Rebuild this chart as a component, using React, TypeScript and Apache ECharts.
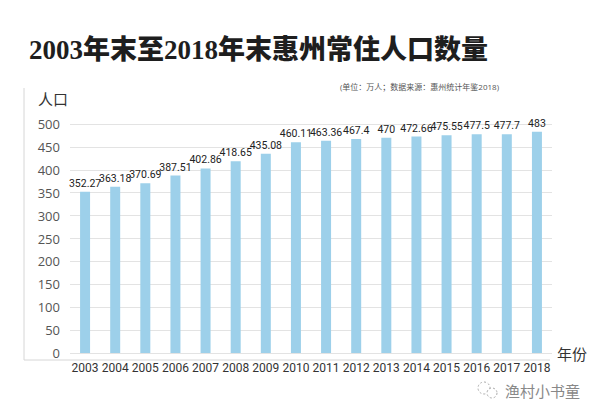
import React, { useEffect, useRef } from "react";
import * as echarts from "echarts";

const years = ["2003", "2004", "2005", "2006", "2007", "2008", "2009", "2010", "2011", "2012", "2013", "2014", "2015", "2016", "2017", "2018"];
const population = [352.27, 363.18, 370.69, 387.51, 402.86, 418.65, 435.08, 460.11, 463.36, 467.4, 470, 472.66, 475.55, 477.5, 477.7, 483];
const titleText = "2003年末至2018年末惠州常住人口数量";
const subText = "(单位：万人；数据来源：惠州统计年鉴2018)";
const yName = "人口";
const xName = "年份";
const sourceMark = "渔村小书童";

export default function App() {
  const ref = useRef<HTMLDivElement>(null);
  useEffect(() => {
    if (!ref.current) return;
    const chart = echarts.init(ref.current, null, { renderer: "svg" });
    const sans = "'Open Sans', 'Noto Sans CJK SC', sans-serif";
    chart.setOption({
      animation: false,
      backgroundColor: "#ffffff",
      title: [
        {
          text: titleText,
          left: 24,
          top: 31,
          textStyle: {
            fontFamily: "'Liberation Serif', 'Noto Sans CJK SC', serif",
            fontWeight: 900,
            fontSize: 27,
            color: "#1e1e1e",
          },
        },
        {
          text: subText,
          left: 335,
          top: 77,
          textStyle: { fontFamily: sans, fontSize: 8, color: "#555", fontWeight: "normal" },
        },
      ],
      grid: { left: 70, right: 48, top: 124, bottom: 63 },
      xAxis: {
        type: "category",
        data: years,
        axisLine: { show: false },
        axisTick: { show: false },
        axisLabel: { fontFamily: "Roboto, sans-serif", fontSize: 12, color: "#333", margin: 9, interval: 0 },
      },
      yAxis: {
        type: "value",
        min: 0,
        max: 500,
        interval: 50,
        axisLine: { show: false },
        axisTick: { show: false },
        splitLine: { lineStyle: { color: "#e3e3e3", width: 1 } },
        axisLabel: { fontFamily: sans, fontSize: 13, color: "#555", margin: 10 },
      },
      graphic: [
        { type: "line", shape: { x1: 24, y1: 88, x2: 24, y2: 360 }, style: { stroke: "#d6d6d6", lineWidth: 1 } },
        { type: "line", shape: { x1: 24, y1: 360, x2: 550, y2: 360 }, style: { stroke: "#d6d6d6", lineWidth: 1 } },
        { type: "text", left: 38, top: 91, style: { text: yName, font: "15px 'Noto Sans CJK SC'", fill: "#333" } },
        { type: "text", left: 557, top: 346, style: { text: xName, font: "15px 'Noto Sans CJK SC'", fill: "#333" } },
        { type: "circle", shape: { cx: 484, cy: 388, r: 6 }, style: { fill: "none", stroke: "#aaa", lineWidth: 1, lineDash: [2, 2] } },
        { type: "circle", shape: { cx: 492, cy: 393, r: 5 }, style: { fill: "#fff", stroke: "#aaa", lineWidth: 1, lineDash: [2, 2] } },
        { type: "text", left: 505, top: 383, style: { text: sourceMark, font: "15px 'Noto Sans CJK SC'", fill: "#888" } },
      ],
      series: [
        {
          type: "bar",
          data: population,
          barWidth: 10,
          itemStyle: { color: "#9dd0ea" },
          label: {
            show: true,
            position: "top",
            distance: 3,
            fontFamily: "Roboto, sans-serif",
            fontSize: 10.5,
            color: "#222",
          },
        },
      ],
    });
    return () => chart.dispose();
  }, []);
  return <div ref={ref} style={{ width: 600, height: 416, position: "absolute", left: 0, top: 0 }} />;
}
